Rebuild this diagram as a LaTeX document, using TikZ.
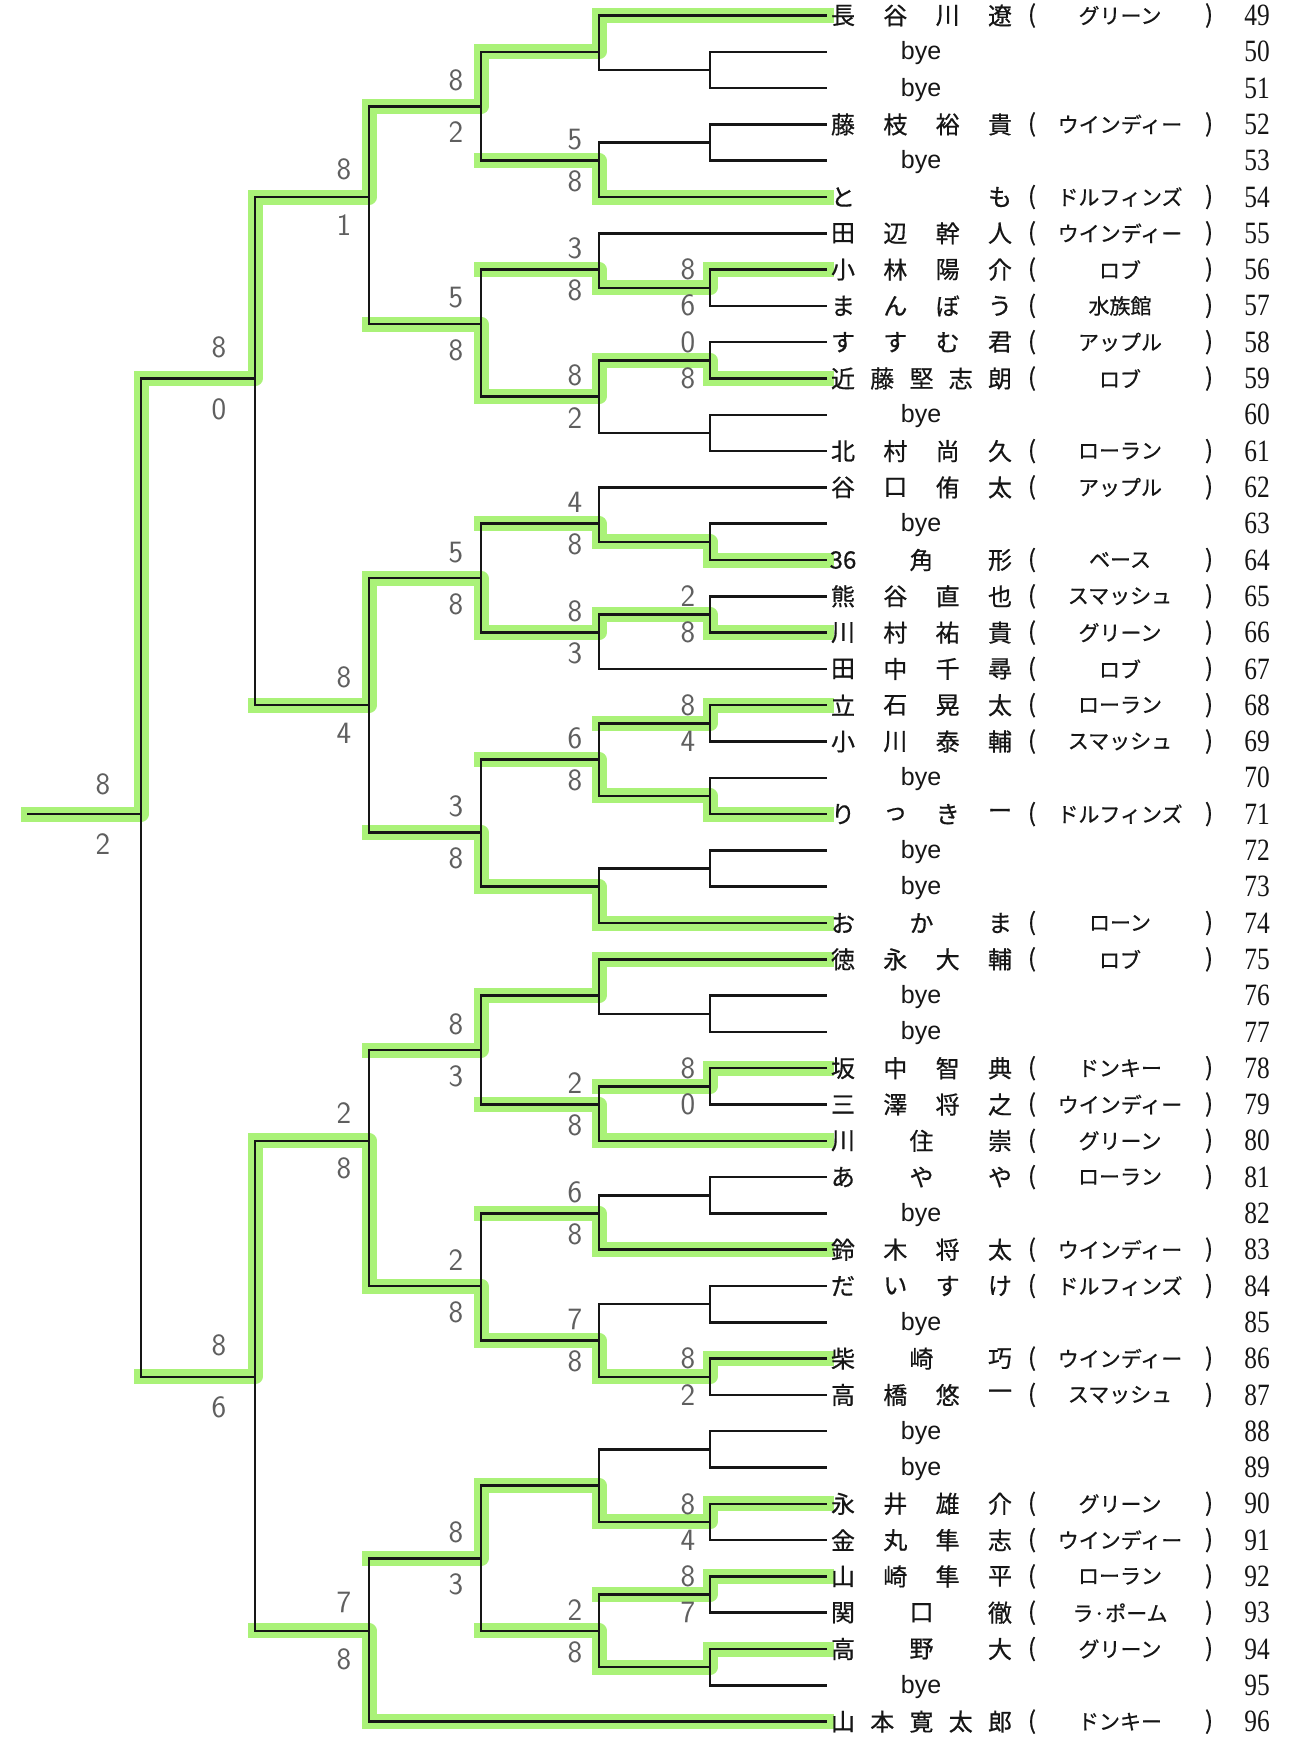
\documentclass[tikz,border=0pt]{standalone}
\usepackage{fontspec}
\newfontfamily\jpfont{Noto Sans CJK JP}[FakeBold=0.6]
\newfontfamily\serfont{Liberation Serif}
\newfontfamily\sanfont{Liberation Sans}
\definecolor{hl}{RGB}{170,242,120}
\definecolor{ink}{RGB}{22,22,22}
\definecolor{pencil}{RGB}{95,95,95}
\def\bxA{710}\def\bxB{599}\def\bxC{481}\def\bxD{369}\def\bxE{255}\def\bxF{141}\def\bxG{28}\def\bxR{826}
\tikzset{
  br/.style={line width=2.5pt, draw=ink, line cap=rect},
  gr/.style={line width=15pt, draw=hl, line cap=rect, line join=round},
  nm/.style={font=\jpfont\fontsize{24}{24}\selectfont, inner sep=0pt, text=ink, anchor=center},
  tm/.style={font=\jpfont\fontsize{21}{21}\selectfont, inner sep=0pt, text=ink, anchor=center},
  pr/.style={font=\jpfont\fontsize{24}{24}\selectfont, inner sep=0pt, text=ink, anchor=center},
  byetext/.style={font=\sanfont\fontsize{25}{25}\selectfont, inner sep=0pt, text=ink, anchor=base, yshift=-8pt},
  numtext/.style={font=\serfont\fontsize{31}{31}\selectfont, inner sep=0pt, text=ink, anchor=center, xscale=0.82},
  sc/.style={font=\sffamily\fontsize{31}{31}\selectfont, inner sep=0pt, text=pencil, anchor=center}
}
\newcommand\prow[4]{%
  \foreach \ch [count=\ii from 0] in {#3} {\node[nm] (n#1-\ii) at ({843+\ii*157/(#2-1)},#1) {\ch};}
  \node[pr] (lp#1) at (1032,#1) {(};
  \node[tm] (tm#1) at (1120,#1) {#4};
  \node[pr] (rp#1) at (1209,#1) {)};
}
\newcommand\byerow[1]{\node[byetext] (bye#1) at (921,#1) {bye};}
\begin{document}
\begin{tikzpicture}[x=1pt,y=1pt]
\fill[white] (0,0) rectangle (1309,-1740);
\useasboundingbox (0,0) rectangle (1309,-1740);
\begin{scope}[shift={(0,-15.5)}, y=-36.3pt]
% ---------- green highlights ----------
\foreach \kk/\xx in {0/\bxB,5/\bxB,7/\bxA,10/\bxA,15/\bxA,17/\bxA,19/\bxA,22/\bxA,25/\bxB,26/\bxB,29/\bxA,31/\bxB,34/\bxB,37/\bxA,41/\bxA,43/\bxA,45/\bxA,47/\bxD}
  \draw[gr] (\xx,\kk) -- (\bxR,\kk);
\foreach \xx/\cc/\mm/\pp in {
  \bxA/7/7.5/\bxB, \bxA/10/9.5/\bxB, \bxA/15/14.5/\bxB, \bxA/17/16.5/\bxB, \bxA/19/19.5/\bxB, \bxA/22/21.5/\bxB,
  \bxA/29/29.5/\bxB, \bxA/37/37.5/\bxB, \bxA/41/41.5/\bxB, \bxA/43/43.5/\bxB, \bxA/45/45.5/\bxB,
  \bxB/0/1/\bxC, \bxB/5/4/\bxC, \bxB/7.5/7/\bxC, \bxB/9.5/10.5/\bxC, \bxB/14.5/14/\bxC, \bxB/16.5/17/\bxC,
  \bxB/21.5/20.5/\bxC, \bxB/25/24/\bxC, \bxB/26/27/\bxC, \bxB/31/30/\bxC, \bxB/34/33/\bxC, \bxB/37.5/36.5/\bxC,
  \bxB/41.5/40.5/\bxC, \bxB/45.5/44.5/\bxC,
  \bxC/1/2.5/\bxD, \bxC/10.5/8.5/\bxD, \bxC/17/15.5/\bxD, \bxC/24/22.5/\bxD, \bxC/27/28.5/\bxD, \bxC/36.5/35/\bxD, \bxC/40.5/42.5/\bxD,
  \bxD/2.5/5/\bxE, \bxD/15.5/19/\bxE, \bxD/35/31/\bxE, \bxD/47/44.5/\bxE,
  \bxE/5/10/\bxF, \bxE/31/37.5/\bxF,
  \bxF/10/22/\bxG}
  \draw[gr] (\pp,\mm) -- (\xx,\mm) -- (\xx,\cc);
% ---------- bracket lines ----------
\foreach \kk/\xx in {0/\bxB,1/\bxA,2/\bxA,3/\bxA,4/\bxA,5/\bxB,6/\bxB,7/\bxA,8/\bxA,9/\bxA,10/\bxA,11/\bxA,12/\bxA,13/\bxB,14/\bxA,15/\bxA,16/\bxA,17/\bxA,18/\bxB,19/\bxA,20/\bxA,21/\bxA,22/\bxA,23/\bxA,24/\bxA,25/\bxB,26/\bxB,27/\bxA,28/\bxA,29/\bxA,30/\bxA,31/\bxB,32/\bxA,33/\bxA,34/\bxB,35/\bxA,36/\bxA,37/\bxA,38/\bxA,39/\bxA,40/\bxA,41/\bxA,42/\bxA,43/\bxA,44/\bxA,45/\bxA,46/\bxA,47/\bxD}
  \draw[br] (\xx,\kk) -- (\bxR,\kk);
\foreach \xx/\ta/\tb/\mm/\pp in {
  \bxA/1/2/1.5/\bxB, \bxA/3/4/3.5/\bxB, \bxA/7/8/7.5/\bxB, \bxA/9/10/9.5/\bxB, \bxA/11/12/11.5/\bxB, \bxA/14/15/14.5/\bxB,
  \bxA/16/17/16.5/\bxB, \bxA/19/20/19.5/\bxB, \bxA/21/22/21.5/\bxB, \bxA/23/24/23.5/\bxB, \bxA/27/28/27.5/\bxB,
  \bxA/29/30/29.5/\bxB, \bxA/32/33/32.5/\bxB, \bxA/35/36/35.5/\bxB, \bxA/37/38/37.5/\bxB, \bxA/39/40/39.5/\bxB,
  \bxA/41/42/41.5/\bxB, \bxA/43/44/43.5/\bxB, \bxA/45/46/45.5/\bxB,
  \bxB/0/1.5/1/\bxC, \bxB/3.5/5/4/\bxC, \bxB/6/7.5/7/\bxC, \bxB/9.5/11.5/10.5/\bxC, \bxB/13/14.5/14/\bxC,
  \bxB/16.5/18/17/\bxC, \bxB/19.5/21.5/20.5/\bxC, \bxB/23.5/25/24/\bxC, \bxB/26/27.5/27/\bxC, \bxB/29.5/31/30/\bxC,
  \bxB/32.5/34/33/\bxC, \bxB/35.5/37.5/36.5/\bxC, \bxB/39.5/41.5/40.5/\bxC, \bxB/43.5/45.5/44.5/\bxC,
  \bxC/1/4/2.5/\bxD, \bxC/7/10.5/8.5/\bxD, \bxC/14/17/15.5/\bxD, \bxC/20.5/24/22.5/\bxD, \bxC/27/30/28.5/\bxD,
  \bxC/33/36.5/35/\bxD, \bxC/40.5/44.5/42.5/\bxD,
  \bxD/2.5/8.5/5/\bxE, \bxD/15.5/22.5/19/\bxE, \bxD/28.5/35/31/\bxE, \bxD/42.5/47/44.5/\bxE,
  \bxE/5/19/10/\bxF, \bxE/31/44.5/37.5/\bxF,
  \bxF/10/37.5/22/\bxG}
  {\draw[br] (\xx,\ta) -- (\xx,\tb); \draw[br] (\pp,\mm) -- (\xx,\mm);}
% ---------- scores ----------
\foreach \xx/\dd/\mm/\sa/\sb [count=\ii] in {
  688/18/7.5/8/6, 688/18/9.5/0/8, 688/18/16.5/2/8, 688/18/19.5/8/4, 688/18/29.5/8/0, 688/18/37.5/8/2, 688/18/41.5/8/4, 688/18/43.5/8/7,
  575/21/4/5/8, 575/21/7/3/8, 575/21/10.5/8/2, 575/21/14/4/8, 575/21/17/8/3, 575/21/20.5/6/8, 575/21/30/2/8, 575/21/33/6/8, 575/21/36.5/7/8, 575/21/44.5/2/8,
  456/26/2.5/8/2, 456/26/8.5/5/8, 456/26/15.5/5/8, 456/26/22.5/3/8, 456/26/28.5/8/3, 456/26/35/2/8, 456/26/42.5/8/3,
  344/28/5/8/1, 344/28/19/8/4, 344/28/31/2/8, 344/28/44.5/7/8,
  219/31/10/8/0, 219/31/37.5/8/6,
  103/30/22/8/2}
  {\node[sc,yshift=\dd pt] (sa\ii) at (\xx,\mm) {\sa};
   \node[sc,yshift=-\dd pt] (sb\ii) at (\xx,\mm) {\sb};}
% ---------- entries ----------
\prow{0}{4}{長,谷,川,遼}{グリーン}
\byerow{1}
\byerow{2}
\prow{3}{4}{藤,枝,裕,貴}{ウインディー}
\byerow{4}
\prow{5}{2}{と,も}{ドルフィンズ}
\prow{6}{4}{田,辺,幹,人}{ウインディー}
\prow{7}{4}{小,林,陽,介}{ロブ}
\prow{8}{4}{ま,ん,ぼ,う}{水族館}
\prow{9}{4}{す,す,む,君}{アップル}
\prow{10}{5}{近,藤,堅,志,朗}{ロブ}
\byerow{11}
\prow{12}{4}{北,村,尚,久}{ローラン}
\prow{13}{4}{谷,口,侑,太}{アップル}
\byerow{14}
\prow{15}{3}{36,角,形}{ベース}
\prow{16}{4}{熊,谷,直,也}{スマッシュ}
\prow{17}{4}{川,村,祐,貴}{グリーン}
\prow{18}{4}{田,中,千,尋}{ロブ}
\prow{19}{4}{立,石,晃,太}{ローラン}
\prow{20}{4}{小,川,泰,輔}{スマッシュ}
\byerow{21}
\prow{22}{4}{り,っ,き,ー}{ドルフィンズ}
\byerow{23}
\byerow{24}
\prow{25}{3}{お,か,ま}{ローン}
\prow{26}{4}{徳,永,大,輔}{ロブ}
\byerow{27}
\byerow{28}
\prow{29}{4}{坂,中,智,典}{ドンキー}
\prow{30}{4}{三,澤,将,之}{ウインディー}
\prow{31}{3}{川,住,崇}{グリーン}
\prow{32}{3}{あ,や,や}{ローラン}
\byerow{33}
\prow{34}{4}{鈴,木,将,太}{ウインディー}
\prow{35}{4}{だ,い,す,け}{ドルフィンズ}
\byerow{36}
\prow{37}{3}{柴,崎,巧}{ウインディー}
\prow{38}{4}{高,橋,悠,一}{スマッシュ}
\byerow{39}
\byerow{40}
\prow{41}{4}{永,井,雄,介}{グリーン}
\prow{42}{4}{金,丸,隼,志}{ウインディー}
\prow{43}{4}{山,崎,隼,平}{ローラン}
\prow{44}{3}{関,口,徹}{ラ·ポーム}
\prow{45}{3}{高,野,大}{グリーン}
\byerow{46}
\prow{47}{5}{山,本,寛,太,郎}{ドンキー}
\foreach \kk in {0,...,47} {\pgfmathtruncatemacro\rnum{49+\kk}\node[numtext] (num\kk) at (1257,\kk) {\rnum};}
\end{scope}
\end{tikzpicture}
\end{document}
